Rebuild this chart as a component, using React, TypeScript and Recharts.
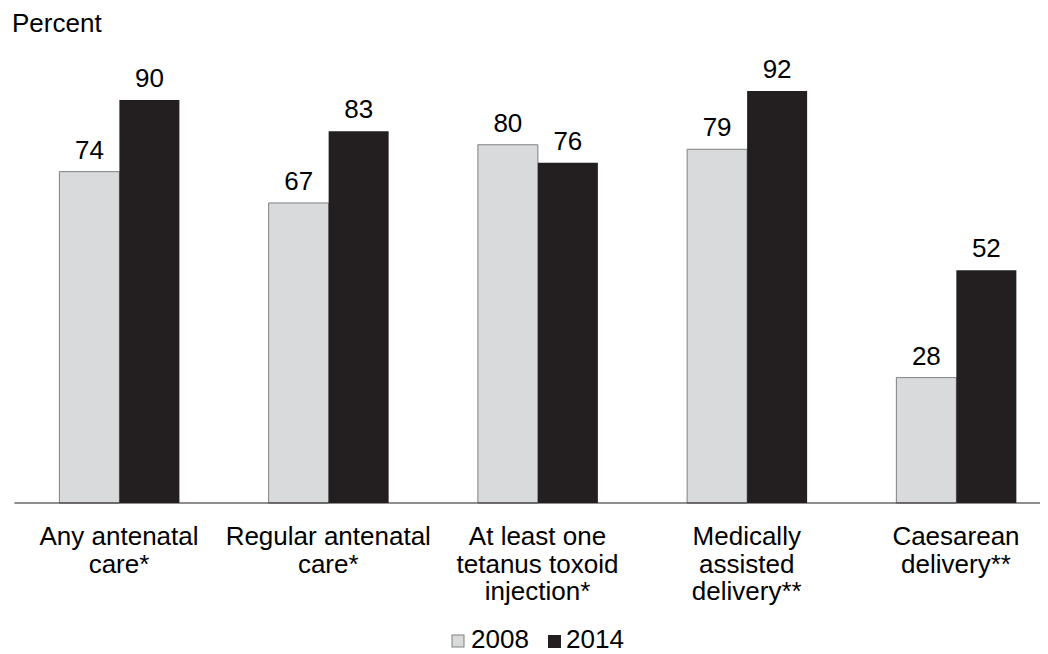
import { BarChart, Bar, XAxis, YAxis, LabelList } from "recharts";

const categories = [
  "Any antenatal\ncare*",
  "Regular antenatal\ncare*",
  "At least one\ntetanus toxoid\ninjection*",
  "Medically\nassisted\ndelivery**",
  "Caesarean\ndelivery**",
];
const values2008 = [74, 67, 80, 79, 28];
const values2014 = [90, 83, 76, 92, 52];

const data = categories.map((name, i) => ({
  name,
  y2008: values2008[i],
  y2014: values2014[i],
}));

const FONT = "'Liberation Sans', Arial, sans-serif";
const DARK = "#231f20";
const LIGHT = "#d9dadb";
const FS = 26;

function CategoryTick(props: any) {
  const { x, y, payload } = props;
  const lines = String(payload.value).split("\n");
  return (
    <text x={x} y={y} textAnchor="middle" fontFamily={FONT} fontSize={FS} fill="#000">
      {lines.map((line, i) => (
        <tspan key={i} x={x} y={y + 42 + i * 27.5}>
          {line}
        </tspan>
      ))}
    </text>
  );
}

export default function App() {
  return (
    <BarChart
      width={1040}
      height={646}
      data={data}
      margin={{ top: 47.2, right: -12.6, bottom: 51, left: 6.4 }}
      barGap={0}
      barSize={60}
      style={{ fontFamily: FONT }}
    >
      <XAxis
        dataKey="name"
        height={100}
        tickLine={false}
        tickSize={0}
        tickMargin={0}
        interval={0}
        axisLine={{ stroke: DARK, strokeWidth: 1.2 }}
        tick={<CategoryTick />}
      />
      <YAxis hide domain={[0, 100]} />
      <Bar dataKey="y2008" fill={LIGHT} stroke="#808080" strokeWidth={1} isAnimationActive={false}>
        <LabelList dataKey="y2008" position="top" offset={13} fontSize={FS} fill="#000" fontFamily={FONT} />
      </Bar>
      <Bar dataKey="y2014" fill={DARK} isAnimationActive={false}>
        <LabelList dataKey="y2014" position="top" offset={13} fontSize={FS} fill="#000" fontFamily={FONT} />
      </Bar>
      <text x={4} y={24} fontFamily={FONT} fontSize={FS} fill="#000">
        Percent
      </text>
      <g fontFamily={FONT} fontSize={FS} fill="#000">
        <rect x={444} y={627} width={12} height={12} fill={LIGHT} stroke="#808080" strokeWidth={1} />
        <text x={463} y={640}>2008</text>
        <rect x={540} y={627} width={13} height={13} fill={DARK} />
        <text x={558} y={640}>2014</text>
      </g>
    </BarChart>
  );
}
